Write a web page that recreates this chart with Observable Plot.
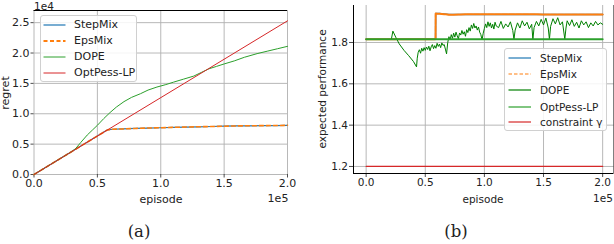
<!DOCTYPE html>
<html>
<head>
<meta charset="utf-8">
<script src="https://cdn.jsdelivr.net/npm/d3@7"></script>
<script src="https://cdn.jsdelivr.net/npm/@observablehq/plot@0.6"></script>
<style>
  html, body { margin: 0; padding: 0; background: #fff; }
  #wrap { position: relative; width: 614px; height: 244px; overflow: hidden; font-family: "DejaVu Sans", sans-serif; color: #222; }
  .abs { position: absolute; white-space: nowrap; line-height: 1; }
  .c { transform: translate(-50%, -50%); }
  .rot { transform: translate(-50%, -50%) rotate(-90deg); }
  .legend { position: absolute; border: 1px solid #d0d0d0; border-radius: 3px; background: rgba(255,255,255,0.85); box-sizing: border-box; }
  .legend .row { position: absolute; left: 0; height: 14px; display: flex; align-items: center; }
  .legend svg { display: block; }
  svg.plot { position: absolute; top: 0; }
</style>
</head>
<body>
<div id="wrap"></div>
<script>
// ---------- Data (x in units of 1e5 episodes) ----------
// Panel (a): regret, in units of 1e4
const regretOptPessX = [0, 2.0];
const regretOptPessY = [0, 2.53];

const regretDopeX = [0, 0.30, 0.33, 0.37, 0.42, 0.46, 0.50, 0.55, 0.60, 0.65, 0.71, 0.77, 0.84, 0.90, 0.97, 1.04, 1.10, 1.18, 1.26, 1.32, 1.38, 1.44, 1.50, 1.58, 1.66, 1.76, 1.84, 1.92, 2.00];
const regretDopeY = [0, 0.38, 0.43, 0.53, 0.65, 0.73, 0.81, 0.92, 1.02, 1.11, 1.20, 1.27, 1.33, 1.39, 1.44, 1.48, 1.52, 1.57, 1.62, 1.68, 1.74, 1.78, 1.82, 1.87, 1.93, 1.99, 2.03, 2.07, 2.11];

const regretStepX = [0, 0.58, 0.62, 0.70, 0.80, 0.90, 1.00, 1.10, 1.20, 1.30, 1.40, 1.50, 1.60, 1.70, 1.80, 1.90, 2.00];
const regretStepY = [0, 0.735, 0.745, 0.75, 0.76, 0.765, 0.77, 0.775, 0.78, 0.785, 0.79, 0.795, 0.80, 0.80, 0.805, 0.805, 0.81];
const regretEpsX = regretStepX;
const regretEpsY = [0, 0.735, 0.745, 0.75, 0.758, 0.765, 0.77, 0.776, 0.782, 0.786, 0.79, 0.795, 0.80, 0.802, 0.805, 0.806, 0.81];

// Panel (b): expected performance
const perfConstraintX = [0, 2.0];
const perfConstraintY = [1.2, 1.2];
const perfOptPessX = [0, 2.0];
const perfOptPessY = [1.816, 1.816];
const perfStepX = [0, 0.587, 0.588, 0.62, 0.66, 0.70, 0.74, 0.80, 1.00, 1.50, 2.00];
const perfStepY = [1.816, 1.816, 1.940, 1.940, 1.938, 1.936, 1.935, 1.936, 1.936, 1.936, 1.935];
const perfEpsX = perfStepX;
const perfEpsY = [1.816, 1.816, 1.940, 1.939, 1.937, 1.934, 1.934, 1.936, 1.937, 1.936, 1.936];

const perfDopeX = [0.214, 0.226, 0.25, 0.28, 0.32, 0.36, 0.40, 0.426, 0.432, 0.44,
  0.45, 0.46, 0.47, 0.48, 0.49, 0.50, 0.51, 0.52, 0.53, 0.54, 0.55, 0.56, 0.57, 0.58, 0.59,
  0.60, 0.61, 0.62, 0.63, 0.64, 0.65, 0.66, 0.67, 0.68, 0.69, 0.70, 0.71, 0.72, 0.73, 0.74,
  0.75, 0.76, 0.77, 0.78, 0.79, 0.80, 0.81, 0.82, 0.83, 0.84, 0.85, 0.86, 0.87, 0.88, 0.89,
  0.90, 0.91, 0.92, 0.93, 0.94, 0.95, 0.96, 0.97, 0.98, 0.99, 1.00, 1.01, 1.02, 1.03, 1.04,
  1.05, 1.06, 1.07, 1.08, 1.09, 1.10, 1.12, 1.14, 1.16, 1.18, 1.20, 1.22, 1.24, 1.25, 1.26,
  1.28, 1.30, 1.32, 1.34, 1.36, 1.38, 1.40, 1.41, 1.42, 1.44, 1.46, 1.48, 1.50, 1.52, 1.54,
  1.55, 1.56, 1.58, 1.60, 1.62, 1.64, 1.66, 1.68, 1.69, 1.70, 1.72, 1.74, 1.76, 1.78, 1.80,
  1.82, 1.84, 1.86, 1.88, 1.90, 1.92, 1.94, 1.96, 1.98, 2.00];
const perfDopeY = [1.818, 1.855, 1.826, 1.793, 1.762, 1.736, 1.708, 1.682, 1.724, 1.752,
  1.765, 1.748, 1.772, 1.758, 1.775, 1.762, 1.778, 1.766, 1.782, 1.760, 1.779, 1.790, 1.770, 1.785, 1.772,
  1.796, 1.781, 1.792, 1.775, 1.798, 1.786, 1.790, 1.768, 1.745, 1.800, 1.828, 1.812, 1.838, 1.820, 1.845,
  1.826, 1.850, 1.832, 1.818, 1.846, 1.836, 1.858, 1.840, 1.852, 1.830, 1.862, 1.848, 1.872, 1.855, 1.885,
  1.868, 1.892, 1.870, 1.880, 1.860, 1.875, 1.850, 1.838, 1.812, 1.845, 1.868, 1.890, 1.872, 1.900, 1.878,
  1.895, 1.870, 1.888, 1.865, 1.898, 1.880, 1.872, 1.902, 1.868, 1.890, 1.875, 1.900, 1.858, 1.815, 1.860,
  1.895, 1.870, 1.905, 1.880, 1.898, 1.866, 1.888, 1.815, 1.872, 1.902, 1.880, 1.912, 1.885, 1.918, 1.870,
  1.815, 1.878, 1.915, 1.890, 1.920, 1.885, 1.900, 1.816, 1.870, 1.905, 1.882, 1.910, 1.878, 1.898, 1.870,
  1.905, 1.885, 1.900, 1.872, 1.895, 1.880, 1.902, 1.885, 1.895, 1.888];

// Ticks
const xTicks = [0, 0.5, 1.0, 1.5, 2.0];
const regretTicks = [0, 0.5, 1.0, 1.5, 2.0, 2.5];
const perfTicks = [1.2, 1.4, 1.6, 1.8];

// Colors
const C = { blue: "#1f77b4", orange: "#ff7f0e", green: "#2ca02c", dgreen: "#008000", red: "#d62728", grid: "#b0b0b0" };

const rows = (xs, ys) => xs.map((x, i) => ({x, y: ys[i]}));
const fmt1 = d => d.toFixed(1);

const wrap = document.getElementById("wrap");

// ---------- Panel (a) ----------
const aYMax = 2.70;
const plotA = Plot.plot({
  width: 300, height: 205,
  marginLeft: 33.5, marginRight: 13, marginTop: 10, marginBottom: 31,
  style: {fontFamily: "DejaVu Sans", fontSize: "11px", color: "#222", background: "transparent", overflow: "visible"},
  x: {domain: [0, 2.0]},
  y: {domain: [0, aYMax]},
  marks: [
    Plot.gridX(xTicks, {stroke: C.grid, strokeOpacity: 1, strokeWidth: 0.9}),
    Plot.gridY(regretTicks, {stroke: C.grid, strokeOpacity: 1, strokeWidth: 0.9}),
    Plot.axisX(xTicks, {tickFormat: fmt1, tickSize: 3.5, tickPadding: 1.5, label: null, stroke: "#222", strokeWidth: 0.8}),
    Plot.axisY(regretTicks, {tickFormat: fmt1, tickSize: 3, tickPadding: 1.5, label: null, stroke: "#222", strokeWidth: 0.8}),
    Plot.ruleY([aYMax], {stroke: "#000", strokeWidth: 1.2}),
    Plot.line(rows(regretStepX, regretStepY), {x: "x", y: "y", stroke: C.blue, strokeWidth: 1.2}),
    Plot.line(rows(regretEpsX, regretEpsY), {x: "x", y: "y", stroke: C.orange, strokeWidth: 1.6, strokeDasharray: "4,3"}),
    Plot.line(rows(regretDopeX, regretDopeY), {x: "x", y: "y", stroke: C.green, strokeWidth: 1}),
    Plot.line(rows(regretOptPessX, regretOptPessY), {x: "x", y: "y", stroke: C.red, strokeWidth: 1})
  ]
});
plotA.classList.add("plot");
plotA.style.left = "0px";
wrap.appendChild(plotA);

// ---------- Panel (b) ----------
const bX = [-0.107, 2.096], bY = [1.166, 1.979];
const plotB = Plot.plot({
  width: 314, height: 205,
  marginLeft: 53, marginRight: 0.5, marginTop: 5, marginBottom: 32,
  style: {fontFamily: "DejaVu Sans", fontSize: "10.5px", color: "#222", background: "transparent", overflow: "visible"},
  x: {domain: bX},
  y: {domain: bY},
  marks: [
    Plot.gridX(xTicks, {stroke: C.grid, strokeOpacity: 1, strokeWidth: 0.9}),
    Plot.gridY(perfTicks, {stroke: C.grid, strokeOpacity: 1, strokeWidth: 0.9}),
    Plot.axisX(xTicks, {tickFormat: fmt1, tickSize: 4, tickPadding: 1.5, label: null, stroke: "#222", strokeWidth: 0.8}),
    Plot.axisY(perfTicks, {tickFormat: fmt1, tickSize: 4, tickPadding: 1.5, label: null, stroke: "#222", strokeWidth: 0.8}),
    Plot.ruleX(bX, {stroke: "#000", strokeWidth: 1}),
    Plot.ruleY([bY[0]], {stroke: "#000", strokeWidth: 1}),
    Plot.line(rows(perfStepX, perfStepY), {x: "x", y: "y", stroke: C.blue, strokeWidth: 1.5}),
    Plot.line(rows(perfEpsX, perfEpsY), {x: "x", y: "y", stroke: C.orange, strokeWidth: 2, strokeDasharray: "6,1"}),
    Plot.line(rows(perfDopeX, perfDopeY), {x: "x", y: "y", stroke: C.dgreen, strokeWidth: 1}),
    Plot.line(rows(perfOptPessX, perfOptPessY), {x: "x", y: "y", stroke: C.green, strokeWidth: 2}),
    Plot.line(rows(perfConstraintX, perfConstraintY), {x: "x", y: "y", stroke: C.red, strokeWidth: 1.2})
  ]
});
plotB.classList.add("plot");
plotB.style.left = "300px";
wrap.appendChild(plotB);

// ---------- Text labels ----------
function label(text, x, y, cls, size, extra) {
  const d = document.createElement("div");
  d.className = "abs " + cls;
  d.textContent = text;
  d.style.left = x + "px";
  d.style.top = y + "px";
  d.style.fontSize = size + "px";
  if (extra) Object.assign(d.style, extra);
  wrap.appendChild(d);
}
label("1e4", 44, 5.5, "c", 10.5);
label("regret", 5, 93, "rot", 11);
label("episode", 161, 199, "c", 11);
label("1e5", 278, 198, "c", 11);
label("expected performance", 322, 89, "rot", 10.5);
label("episode", 483, 199, "c", 10.5);
label("1e5", 603, 198, "c", 10.5);
label("(a)", 139, 232, "c", 16.5, {fontFamily: "'DejaVu Serif', 'Liberation Serif', serif"});
label("(b)", 456, 232, "c", 16.5, {fontFamily: "'DejaVu Serif', 'Liberation Serif', serif"});

// ---------- Legends ----------
function legend(left, top, w, h, entries, rowTops, lineX0, lineX1, textX, size) {
  const box = document.createElement("div");
  box.className = "legend";
  Object.assign(box.style, {left: left + "px", top: top + "px", width: w + "px", height: h + "px"});
  entries.forEach((e, i) => {
    const row = document.createElement("div");
    row.className = "row";
    row.style.top = (rowTops[i] - 7) + "px";
    const svg = d3.create("svg").attr("width", textX).attr("height", 14);
    svg.append("line").attr("x1", lineX0).attr("x2", lineX1).attr("y1", 7).attr("y2", 7)
      .attr("stroke", e.color).attr("stroke-width", e.width).attr("stroke-dasharray", e.dash || null);
    row.appendChild(svg.node());
    const t = document.createElement("span");
    t.textContent = e.name;
    t.style.fontSize = size + "px";
    t.style.lineHeight = "14px";
    row.appendChild(t);
    box.appendChild(row);
  });
  wrap.appendChild(box);
}
legend(40, 15, 97, 67, [
  {name: "StepMix", color: C.blue, width: 1.2},
  {name: "EpsMix", color: C.orange, width: 2, dash: "4,2.5"},
  {name: "DOPE", color: C.green, width: 1},
  {name: "OptPess-LP", color: C.red, width: 1}
], [9, 25, 40.5, 56.5], 2.5, 24.5, 33, 11);

legend(504, 48, 103, 83, [
  {name: "StepMix", color: C.blue, width: 1.2},
  {name: "EpsMix", color: C.orange, width: 1.2, dash: "3.5,2"},
  {name: "DOPE", color: C.dgreen, width: 1.2},
  {name: "OptPess-LP", color: C.green, width: 1.2},
  {name: "constraint γ", color: C.red, width: 1.2}
], [9, 25, 41, 57.5, 73], 3.5, 26, 35, 10.5);
</script>
</body>
</html>
